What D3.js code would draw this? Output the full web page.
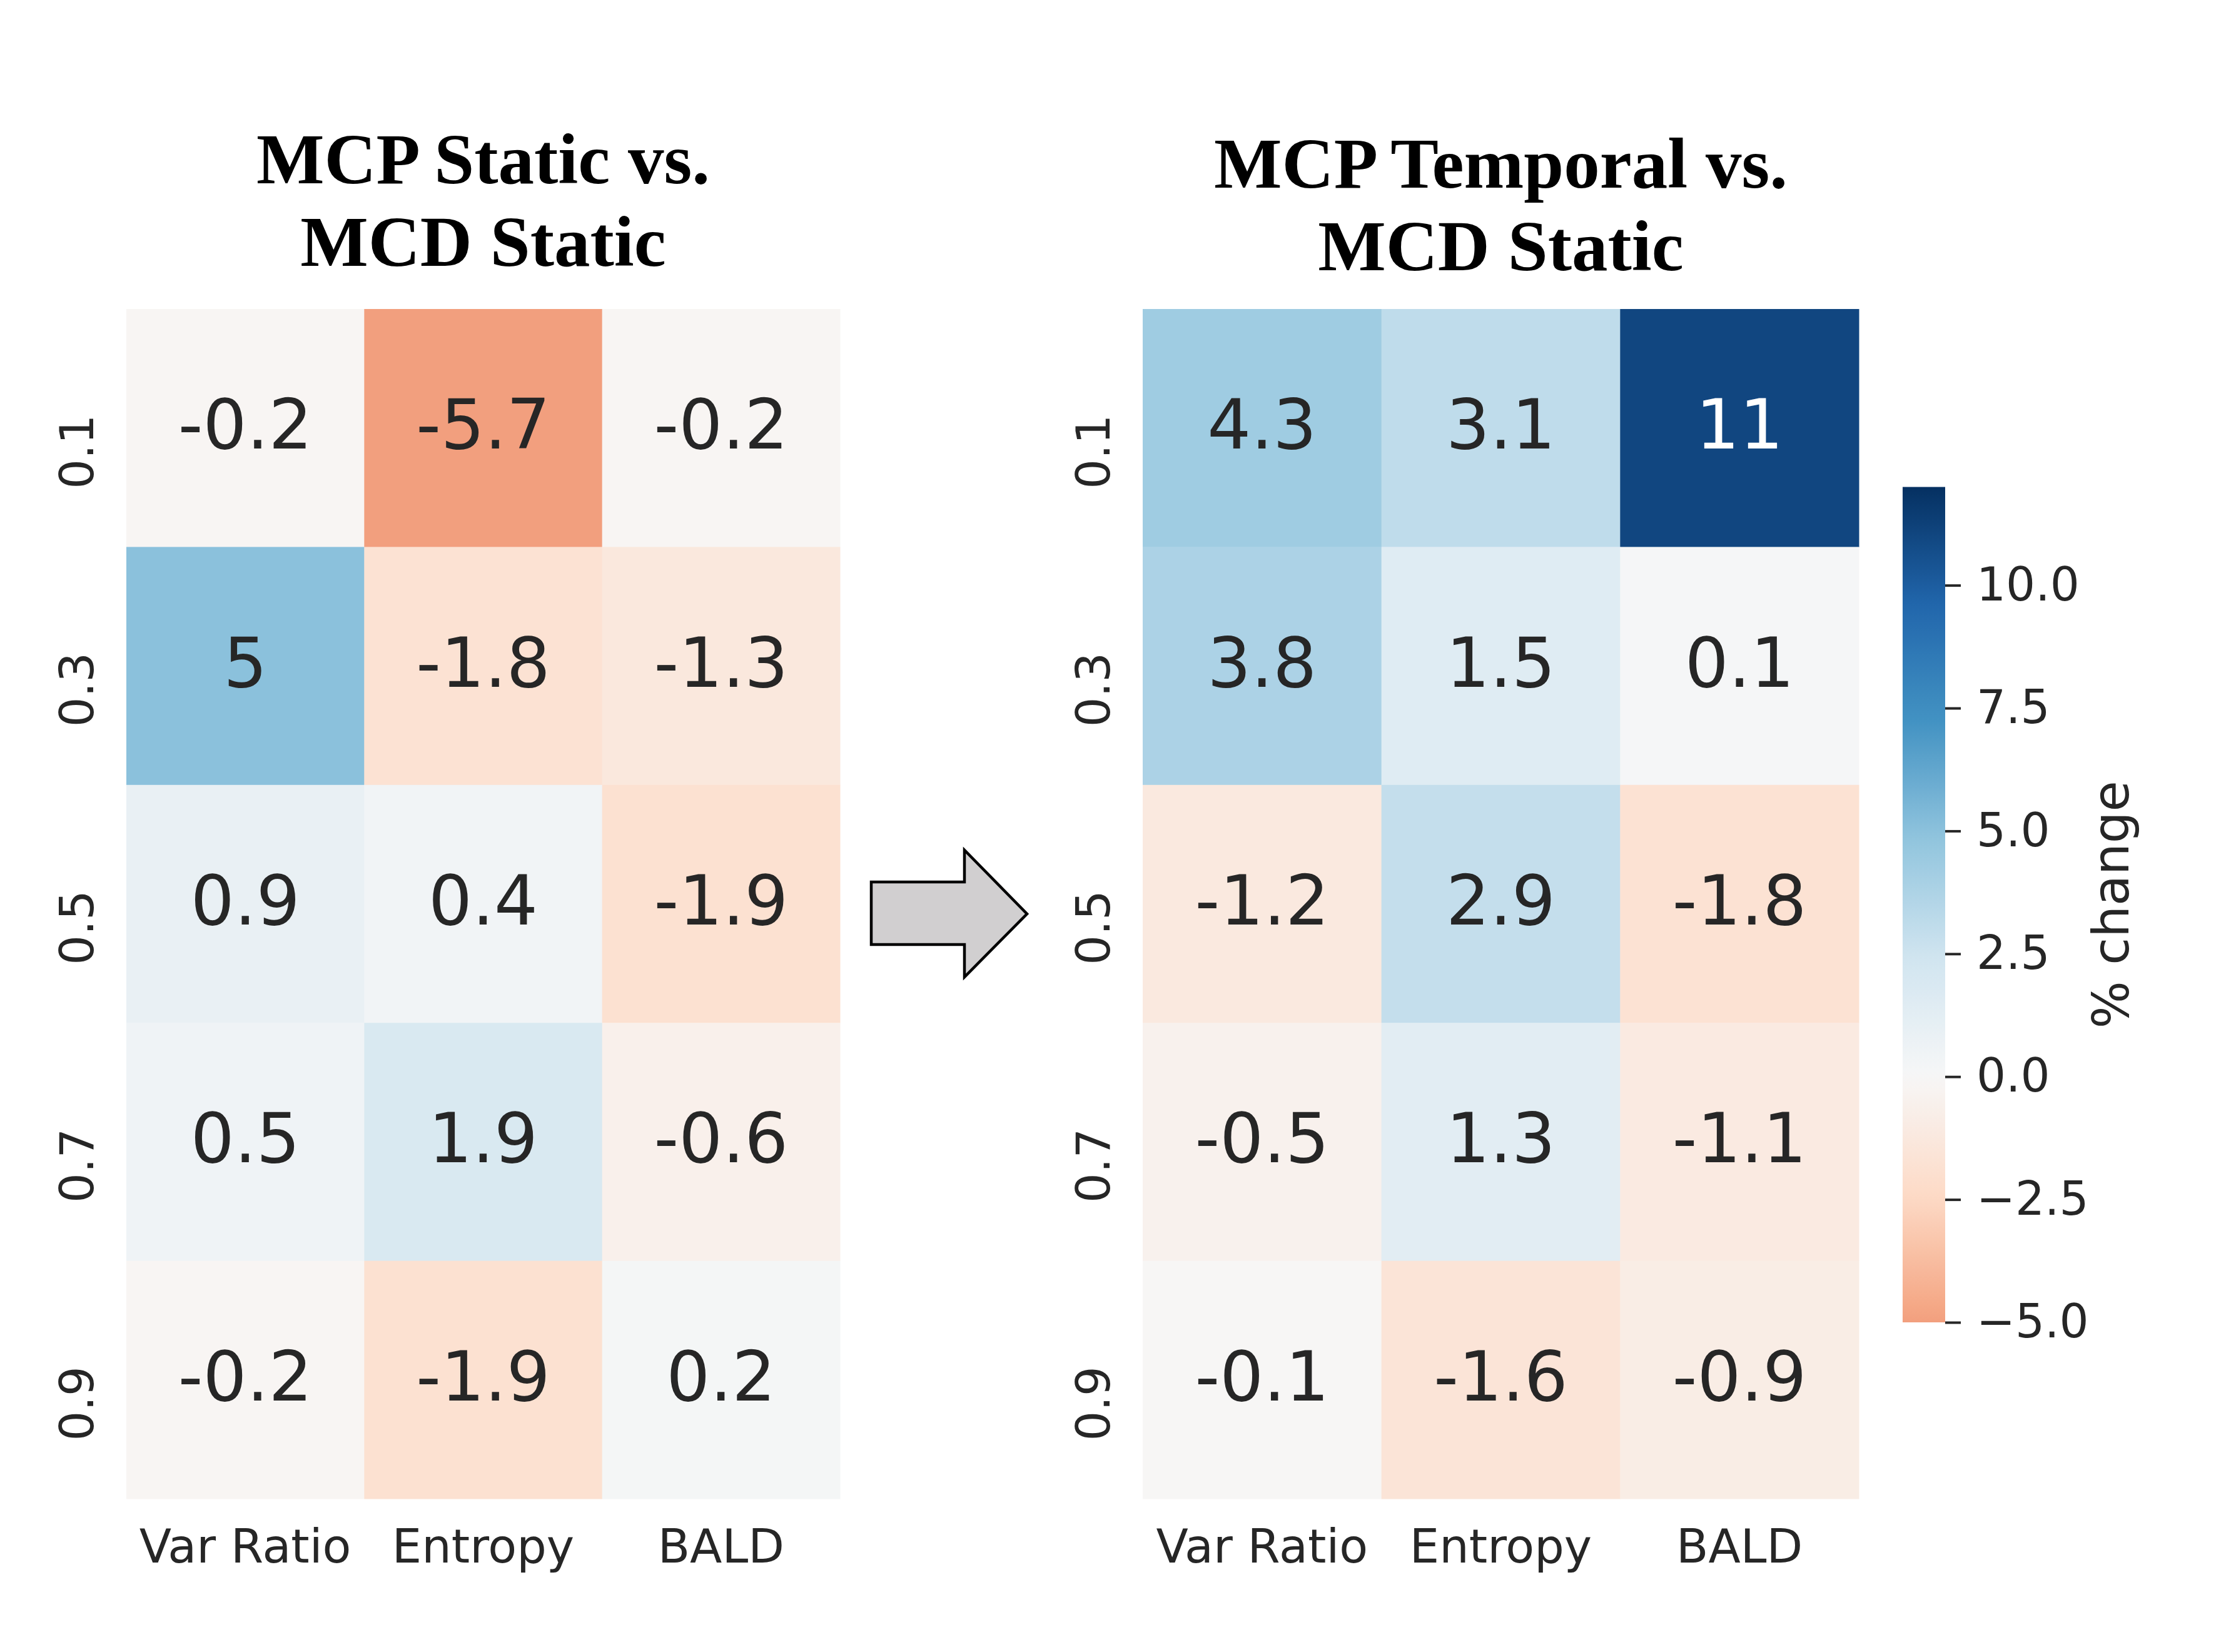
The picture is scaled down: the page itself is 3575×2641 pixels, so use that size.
<!DOCTYPE html>
<html>
<head>
<meta charset="utf-8">
<script src="https://cdn.jsdelivr.net/npm/d3@7"></script>
<style>
  body { margin: 0; background: #fff; }
</style>
</head>
<body>
<div class="chart"></div>
<script>
// rows = dropout rate, cols = acquisition function
const rowLabels = ["0.1", "0.3", "0.5", "0.7", "0.9"];
const colLabels = ["Var Ratio", "Entropy", "BALD"];

const staticVals = [
    [-0.2, -5.7, -0.2],
    [5, -1.8, -1.3],
    [0.9, 0.4, -1.9],
    [0.5, 1.9, -0.6],
    [-0.2, -1.9, 0.2]
];
const temporalVals = [
    [4.3, 3.1, 11],
    [3.8, 1.5, 0.1],
    [-1.2, 2.9, -1.8],
    [-0.5, 1.3, -1.1],
    [-0.1, -1.6, -0.9]
];

const cbarTicks = [-5, -2.5, 0, 2.5, 5, 7.5, 10];
const vmin = -5, vmax = 12;

const width = 3575, height = 2641;

const svg = d3.select(".chart")
    .append("svg")
    .attr("width", width)
    .attr("height", height)
    .style("background", "#fff");

// matplotlib RdBu, centred on 0 (range -12..12, cut to vmin..vmax like seaborn)
const rdbu = ["#67001f", "#b2182b", "#d6604d", "#f4a582", "#fddbc7", "#f7f7f7",
              "#d1e5f0", "#92c5de", "#4393c3", "#2166ac", "#053061"];
const cmap = d3.scaleLinear()
    .domain(d3.range(11).map(i => i / 10))
    .range(rdbu)
    .interpolate(d3.interpolateRgb)
    .clamp(true);
const vrange = Math.max(vmax, -vmin);
function color(v) {
    const c = Math.max(vmin, Math.min(vmax, v));
    return cmap((c + vrange) / (2 * vrange));
}
function lum(c) {
    const rgb = d3.rgb(c);
    const f = x => { x = x / 255; return x <= 0.03928 ? x / 12.92 : Math.pow((x + 0.055) / 1.055, 2.4); };
    return 0.2126 * f(rgb.r) + 0.7152 * f(rgb.g) + 0.0722 * f(rgb.b);
}

const textCol = "#262626";

function heatmap(vals, x0, x1, titleLines, titleY) {
    const xScale = d3.scaleBand().domain(colLabels).range([x0, x1]);
    const yScale = d3.scaleBand().domain(rowLabels).range([494, 2396]);

    const cells = [];
    vals.forEach((row, i) => row.forEach((v, j) => cells.push({r: rowLabels[i], c: colLabels[j], v: v})));

    const g = svg.append("g");

    g.selectAll("rect")
        .data(cells)
        .enter()
        .append("rect")
        .attr("x", d => xScale(d.c))
        .attr("y", d => yScale(d.r))
        .attr("width", xScale.bandwidth() + 0.5)
        .attr("height", yScale.bandwidth() + 0.5)
        .attr("fill", d => color(d.v));

    g.selectAll("text.annot")
        .data(cells)
        .enter()
        .append("text")
        .attr("class", "annot")
        .attr("x", d => xScale(d.c) + xScale.bandwidth() / 2)
        .attr("y", d => yScale(d.r) + yScale.bandwidth() / 2 + 33)
        .attr("text-anchor", "middle")
        .style("font-family", "DejaVu Sans")
        .style("font-size", "110px")
        .attr("fill", d => lum(color(d.v)) > 0.408 ? textCol : "#ffffff")
        .text(d => String(d.v));

    // x tick labels
    g.selectAll("text.xlab")
        .data(colLabels)
        .enter()
        .append("text")
        .attr("class", "xlab")
        .attr("x", d => xScale(d) + xScale.bandwidth() / 2)
        .attr("y", 2498)
        .attr("text-anchor", "middle")
        .style("font-family", "DejaVu Sans")
        .style("font-size", "75px")
        .attr("fill", textCol)
        .text(d => d);

    // y tick labels (rotated)
    g.selectAll("text.ylab")
        .data(rowLabels)
        .enter()
        .append("text")
        .attr("class", "ylab")
        .attr("transform", d => "translate(" + (x0 - 53) + "," + (yScale(d) + yScale.bandwidth() / 2 + 38) + ") rotate(-90)")
        .attr("text-anchor", "middle")
        .style("font-family", "DejaVu Sans")
        .style("font-size", "75px")
        .attr("fill", textCol)
        .text(d => d);

    g.selectAll("text.title")
        .data(titleLines)
        .enter()
        .append("text")
        .attr("class", "title")
        .attr("x", (x0 + x1) / 2)
        .attr("y", (d, i) => titleY + i * 132)
        .attr("text-anchor", "middle")
        .style("font-family", "Liberation Serif")
        .style("font-weight", "bold")
        .style("font-size", "115px")
        .attr("fill", "#000")
        .text(d => d);
}

heatmap(staticVals, 202, 1343, ["MCP Static vs.", "MCD Static"], 293);
heatmap(temporalVals, 1827, 2972, ["MCP Temporal vs.", "MCD Static"], 300);

// arrow between the panels
svg.append("polygon")
    .attr("points", [[1393, 1410], [1542, 1410], [1542, 1359], [1642, 1461],
                     [1542, 1562], [1542, 1510], [1393, 1510]].map(p => p.join(",")).join(" "))
    .attr("fill", "#d1cfd0")
    .attr("stroke", "#000")
    .attr("stroke-width", 4.5);

// colorbar
const cbX = 3042, cbW = 68;
const cbScale = d3.scaleLinear().domain([vmin, vmax]).range([2114, 778.5]);

const grad = svg.append("defs").append("linearGradient")
    .attr("id", "cbgrad")
    .attr("x1", 0).attr("y1", 1).attr("x2", 0).attr("y2", 0);
grad.selectAll("stop")
    .data(d3.range(0, 1.0001, 0.02))
    .enter()
    .append("stop")
    .attr("offset", d => d)
    .attr("stop-color", d => color(vmin + d * (vmax - vmin)));

svg.append("rect")
    .attr("x", cbX)
    .attr("y", cbScale(vmax))
    .attr("width", cbW)
    .attr("height", cbScale(vmin) - cbScale(vmax))
    .attr("fill", "url(#cbgrad)");

const cbAxis = d3.axisRight(cbScale)
    .tickValues(cbarTicks)
    .tickSize(25)
    .tickPadding(25)
    .tickFormat(d3.format(".1f"));

const cbG = svg.append("g")
    .attr("transform", "translate(" + (cbX + cbW) + ",0)")
    .call(cbAxis);
cbG.select(".domain").remove();
cbG.selectAll(".tick line").attr("stroke", textCol).attr("stroke-width", 4);
cbG.selectAll(".tick text")
    .attr("fill", textCol)
    .style("font-family", "DejaVu Sans")
    .style("font-size", "74px");

svg.append("text")
    .attr("transform", "translate(3403," + (cbScale(vmin) + cbScale(vmax)) / 2 + ") rotate(-90)")
    .attr("text-anchor", "middle")
    .style("font-family", "DejaVu Sans")
    .style("font-size", "80px")
    .attr("fill", textCol)
    .text("% change");
</script>
</body>
</html>
